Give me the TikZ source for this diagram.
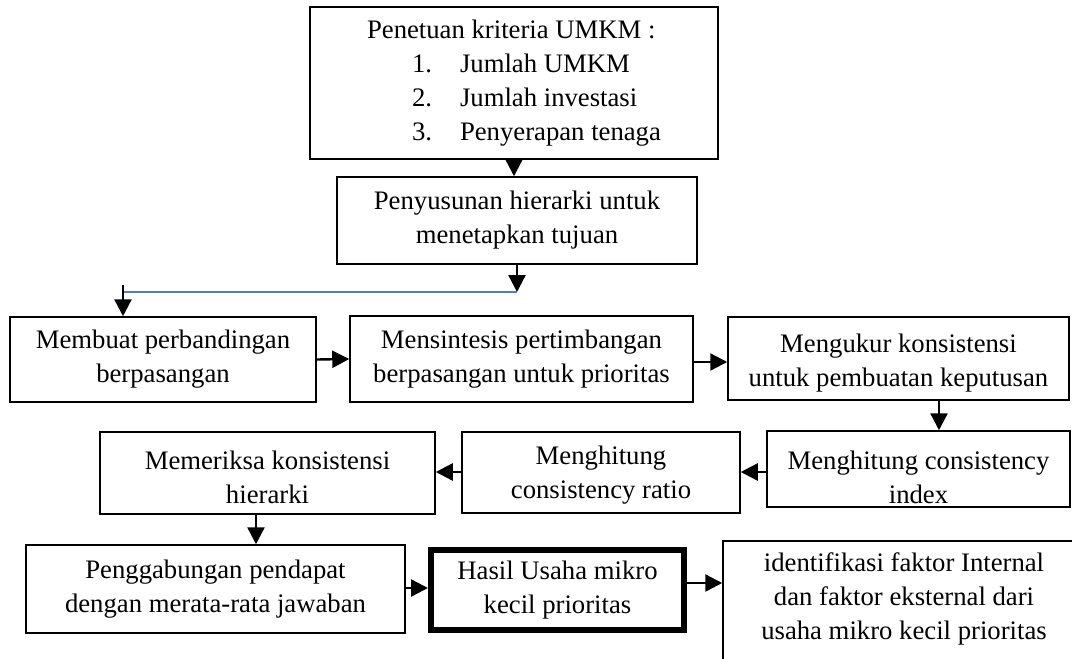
\documentclass[tikz,border=0pt]{standalone}
\usepackage{fontspec}
\setmainfont{Liberation Serif}
\usetikzlibrary{arrows.meta}
\definecolor{garisbiru}{RGB}{79,129,189}

\begin{document}
\begin{tikzpicture}[x=1pt, y=-1pt,
    kotak/.style={draw, line width=1.5pt, inner sep=0pt, align=center,
        font=\fontsize{26.7}{34}\selectfont},
    panah/.style={line width=2.4pt, -{Triangle[length=17pt,width=17pt]}}]
    \useasboundingbox (0,0) rectangle (1072,659);
    \clip (0,0) rectangle (1072,659);
    \node[kotak, align=left, minimum width=408, minimum height=152] (kriteria) at (514,83)
        {Penetuan kriteria UMKM :\\
        \hspace*{45pt}\makebox[48pt][l]{1.}Jumlah UMKM\\
        \hspace*{45pt}\makebox[48pt][l]{2.}Jumlah investasi\\
        \hspace*{45pt}\makebox[48pt][l]{3.}Penyerapan tenaga};
    \node[kotak, minimum width=360, minimum height=87] (hierarki) at (517,220.5)
        {Penyusunan hierarki untuk\\menetapkan tujuan};
    \node[kotak, minimum width=306, minimum height=85] (banding) at (163,359.5)
        {Membuat perbandingan\\berpasangan};
    \node[kotak, minimum width=343, minimum height=86] (sintesis) at (521.5,359)
        {Mensintesis pertimbangan\\berpasangan untuk prioritas};
    \node[kotak, minimum width=341, minimum height=83, text height=61pt] (ukur) at (898.5,358.5)
        {Mengukur konsistensi\\untuk pembuatan keputusan};
    \node[kotak, minimum width=303, minimum height=76, text height=70pt] (ci) at (918.5,469)
        {Menghitung consistency\\index};
    \node[kotak, minimum width=278, minimum height=81, text height=58pt] (cr) at (601,472.5)
        {Menghitung\\consistency ratio};
    \node[kotak, minimum width=335, minimum height=82, text height=62pt] (periksa) at (267.5,473)
        {Memeriksa konsistensi\\hierarki};
    \node[kotak, minimum width=379, minimum height=88] (gabung) at (215.5,589)
        {Penggabungan pendapat\\dengan merata-rata jawaban};
    \node[kotak, line width=6pt, minimum width=253, minimum height=80] (hasil) at (557.5,590)
        {Hasil Usaha mikro\\kecil prioritas};
    \node[kotak, anchor=north, minimum width=362, text depth=60pt, inner ysep=12pt] (identifikasi) at (904,540)
        {identifikasi faktor Internal\\dan faktor eksternal dari\\usaha mikro kecil prioritas};
    \coordinate (cabang) at (hierarki.south |- 0,292);
    \coordinate (kiri) at (123,292);
    \draw[garisbiru, line width=1.5pt] (cabang) -- (kiri);
    \draw[panah] (kriteria.south) -- (kriteria.south |- hierarki.north);
    \draw[panah] (hierarki.south) -- (cabang);
    \draw[panah] ([yshift=7pt]kiri) -- (kiri |- banding.north);
    \draw[panah] (banding.east) -- (sintesis.west);
    \draw[panah] (sintesis.east |- 0,362) -- (ukur.west |- 0,362);
    \draw[panah] (ukur.south -| 939,0) -- (ci.north -| 939,0);
    \draw[panah] (ci.west |- 0,472) -- (cr.east |- 0,472);
    \draw[panah] (cr.west |- 0,472) -- (periksa.east |- 0,472);
    \draw[panah] (periksa.south -| 256,0) -- (gabung.north -| 256,0);
    \draw[panah] (gabung.east |- 0,588) -- (hasil.west |- 0,588);
    \draw[panah] (hasil.east |- 0,583) -- (identifikasi.west |- 0,583);
\end{tikzpicture}
\end{document}
